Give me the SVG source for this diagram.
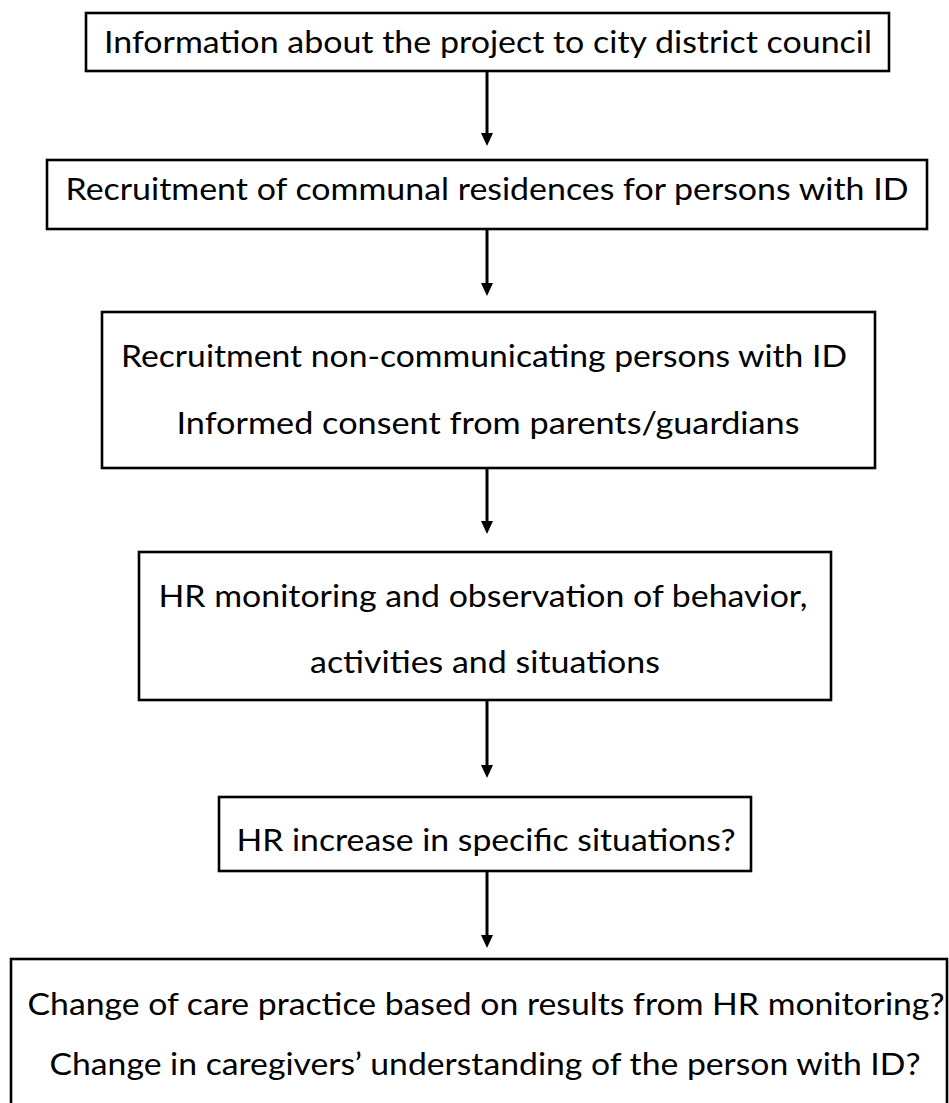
<svg xmlns="http://www.w3.org/2000/svg" width="949" height="1103" viewBox="0 0 949 1103">
<style>
.box{fill:#fff;stroke:#000;stroke-width:2.6}
.t{font-family:Lato,"Liberation Sans",sans-serif;font-size:30px;fill:#000;text-anchor:middle}
.c{stroke:#000;stroke-width:3;fill:none}
</style>
<defs>
<marker id="ah" markerUnits="userSpaceOnUse" markerWidth="14" markerHeight="14" viewBox="0 0 14 14" refX="7" refY="13" orient="auto-start-reverse">
<path d="M1,0 L13,0 L7,13 Z" fill="#000" transform="rotate(0)"/>
</marker>
</defs>
<rect width="949" height="1103" fill="#fff"/>
<g id="connectors">
<line class="c" x1="487" y1="71" x2="487" y2="133"/>
<path d="M481,133 L493,133 L487,146 Z" fill="#000"/>
<line class="c" x1="487" y1="229" x2="487" y2="283"/>
<path d="M481,283 L493,283 L487,296 Z" fill="#000"/>
<line class="c" x1="487" y1="468" x2="487" y2="521"/>
<path d="M481,521 L493,521 L487,534 Z" fill="#000"/>
<line class="c" x1="487" y1="700" x2="487" y2="765"/>
<path d="M481,765 L493,765 L487,778 Z" fill="#000"/>
<line class="c" x1="487" y1="871" x2="487" y2="935"/>
<path d="M481,935 L493,935 L487,948 Z" fill="#000"/>
</g>
<g id="n1">
<rect class="box" x="86" y="13" width="803" height="58"/>
<text class="t" x="488" y="53" textLength="768" lengthAdjust="spacingAndGlyphs">Information about the project to city district council</text>
</g>
<g id="n2">
<rect class="box" x="47" y="160" width="880" height="69"/>
<text class="t" x="487" y="200" textLength="843" lengthAdjust="spacingAndGlyphs">Recruitment of communal residences for persons with ID</text>
</g>
<g id="n3">
<rect class="box" x="102" y="312" width="773" height="156"/>
<text class="t" x="484" y="367" textLength="726" lengthAdjust="spacingAndGlyphs">Recruitment non-communicating persons with ID</text>
<text class="t" x="488" y="434" textLength="623" lengthAdjust="spacingAndGlyphs">Informed consent from parents/guardians</text>
</g>
<g id="n4">
<rect class="box" x="139" y="552" width="692" height="148"/>
<text class="t" x="483" y="607" textLength="649" lengthAdjust="spacingAndGlyphs">HR monitoring and observation of behavior,</text>
<text class="t" x="485" y="673" textLength="350" lengthAdjust="spacingAndGlyphs">activities and situations</text>
</g>
<g id="n5">
<rect class="box" x="219" y="797" width="532" height="74"/>
<text class="t" x="486" y="851" textLength="499" lengthAdjust="spacingAndGlyphs">HR increase in specific situations?</text>
</g>
<g id="n6">
<rect class="box" x="11" y="959" width="936" height="150"/>
<text class="t" x="486" y="1015" textLength="917" lengthAdjust="spacingAndGlyphs">Change of care practice based on results from HR monitoring?</text>
<text class="t" x="485" y="1075" textLength="871" lengthAdjust="spacingAndGlyphs">Change in caregivers’ understanding of the person with ID?</text>
</g>
</svg>
